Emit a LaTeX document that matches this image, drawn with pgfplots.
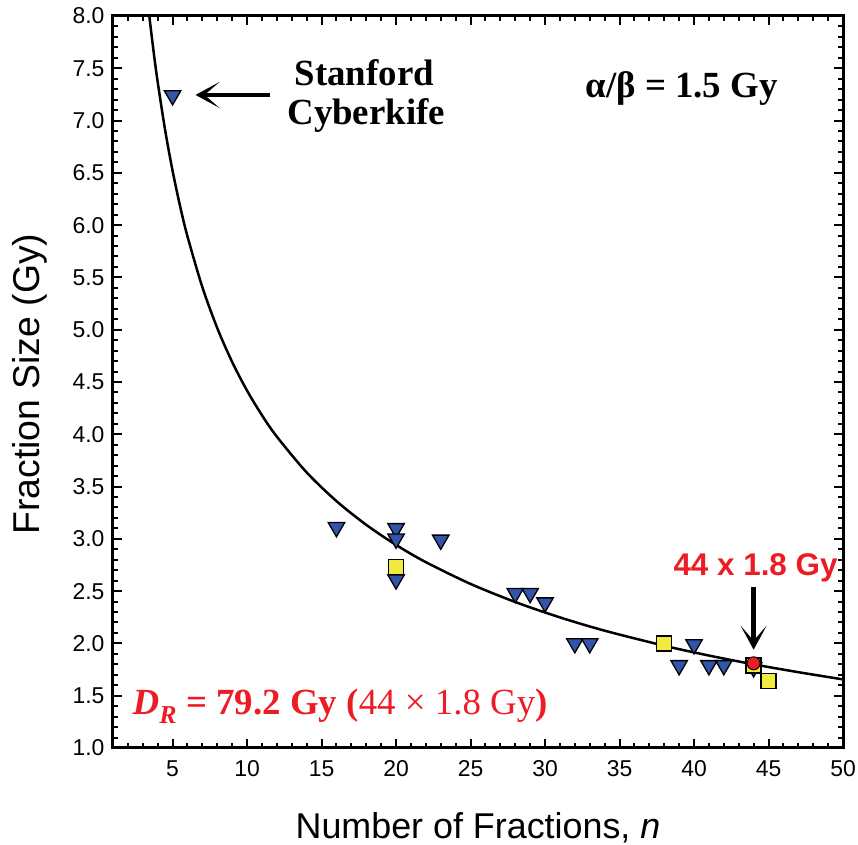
\documentclass[border=0pt]{standalone}
\usepackage{pgfplots}
\pgfplotsset{compat=1.18}
\usepackage{fontspec}
\setmainfont{Liberation Serif}
\setsansfont{Liberation Sans}
\usetikzlibrary{arrows.meta}
\definecolor{tri}{RGB}{50,85,170}
\definecolor{sq}{RGB}{240,235,60}
\definecolor{rd}{RGB}{237,28,36}

\begin{document}
\begin{tikzpicture}
\begin{axis}[
  scale only axis, width=730bp, height=732bp,
  xmin=1, xmax=50, ymin=1, ymax=8,
  xtick={5,10,...,50}, ytick={1,1.5,...,8},
  xticklabel pos=lower, yticklabel pos=left,
  major tick length=0pt, minor tick length=0pt,
  tick style={draw=none},
  axis line style={line width=3bp},
  /pgf/number format/assume math mode=true,
  ticklabel style={font=\sffamily\fontsize{23}{23}\selectfont},
  xticklabel style={yshift=-9bp},
  yticklabel style={xshift=-5bp, /pgf/number format/.cd, fixed, fixed zerofill, precision=1},
  xlabel={Number of Fractions, \textit{n}},
  ylabel={Fraction Size (Gy)},
  label style={font=\sffamily\fontsize{36}{36}\selectfont},
  xlabel style={at={(axis description cs:0.5,-0.123)}, anchor=base},
  ylabel style={at={(axis description cs:-0.100,0.497)}, anchor=base, font=\sffamily\fontsize{37.5}{37.5}\selectfont},
]
% tick marks on all four sides (inside), one command per loop
\pgfplotsinvokeforeach{1,2,...,50}{\draw[black, line width=2bp] (axis cs:#1,1) -- (axis cs:#1,1.048);}
\pgfplotsinvokeforeach{1,2,...,50}{\draw[black, line width=2bp] (axis cs:#1,8) -- (axis cs:#1,7.952);}
\pgfplotsinvokeforeach{5,10,...,50}{\draw[black, line width=2bp] (axis cs:#1,1) -- (axis cs:#1,1.086);}
\pgfplotsinvokeforeach{5,10,...,50}{\draw[black, line width=2bp] (axis cs:#1,8) -- (axis cs:#1,7.914);}
\pgfplotsinvokeforeach{1.0,1.1,...,8.0}{\draw[black, line width=2bp] (axis cs:1,#1) -- (axis cs:1.336,#1);}
\pgfplotsinvokeforeach{1.0,1.1,...,8.0}{\draw[black, line width=2bp] (axis cs:50,#1) -- (axis cs:49.664,#1);}
\pgfplotsinvokeforeach{1.0,1.5,...,8.0}{\draw[black, line width=2bp] (axis cs:1,#1) -- (axis cs:1.604,#1);}
\pgfplotsinvokeforeach{1.0,1.5,...,8.0}{\draw[black, line width=2bp] (axis cs:50,#1) -- (axis cs:49.396,#1);}
% isoeffect curve
\addplot[black, line width=2.5bp, smooth] coordinates {
 (3.4,8.050) (3.5,7.924) (3.75,7.632) (4,7.368) (4.5,6.908) (5,6.519)
 (5.5,6.184) (6,5.892) (7,5.406) (8,5.015) (9,4.691) (10,4.417)
 (11,4.182) (12,3.977) (14,3.635) (16,3.361) (18,3.134) (20,2.942)
 (22,2.777) (25,2.569) (28,2.396) (31,2.249) (34,2.122) (38,1.978)
 (41,1.884) (44,1.800) (47,1.725) (50,1.656)
};
% blue triangles
\addplot[only marks, mark=triangle*, mark size=9.5bp,
  mark options={rotate=180, fill=tri, draw=black, line width=1.3bp}] coordinates {
 (5,7.24) (16,3.11) (20,3.10) (20,3.00) (20,2.61) (23,2.99)
 (28,2.48) (29,2.48) (30,2.39) (32,2.00) (33,2.00)
 (39,1.79) (40,1.99) (41,1.79) (42,1.79) (44,1.77)
};
% yellow squares
\addplot[only marks, mark=square*, mark size=7.5bp,
  mark options={fill=sq, draw=black, line width=1.3bp}] coordinates {
 (20,2.73) (38,2.00) (44,1.79) (45,1.64)
};
% red circle
\addplot[only marks, mark=*, mark size=6.5bp,
  mark options={fill=rd, draw=black, line width=1bp}] coordinates {
 (44,1.81)
};
% annotations
\node[anchor=base, font=\bfseries\fontsize{37}{37}\selectfont] at (axis cs:17.87,7.34) {Stanford};
\node[anchor=base, font=\bfseries\fontsize{37}{37}\selectfont] at (axis cs:18.0,6.958) {Cyberkife};
\draw[line width=4.5bp, -{Stealth[length=24bp,width=26bp,inset=15bp]}] (axis cs:11.57,7.245) -- (axis cs:6.54,7.245);
\node[anchor=base, font=\bfseries\fontsize{37}{37}\selectfont] at (axis cs:39.17,7.216) {α/β = 1.5 Gy};
\node[anchor=base, text=rd, font=\sffamily\bfseries\fontsize{31.5}{31.5}\selectfont] at (axis cs:44.13,2.654) {44 x 1.8 Gy};
\draw[line width=4.5bp, -{Stealth[length=24bp,width=26bp,inset=15bp]}] (axis cs:44,2.54) -- (axis cs:44,1.94);
\node[anchor=base west, text=rd, font=\fontsize{37}{37}\selectfont, inner sep=0pt] at (axis cs:2.31,1.316)
 {\textbf{\textit{D}\textsubscript{\textit{R}} = 79.2 Gy (}44 × 1.8 Gy\textbf{)}};
\end{axis}
\pgfresetboundingbox
\path[use as bounding box] ([xshift=-113bp,yshift=-97bp]current axis.south west) rectangle ([xshift=15bp,yshift=16bp]current axis.north east);
\end{tikzpicture}
\end{document}
